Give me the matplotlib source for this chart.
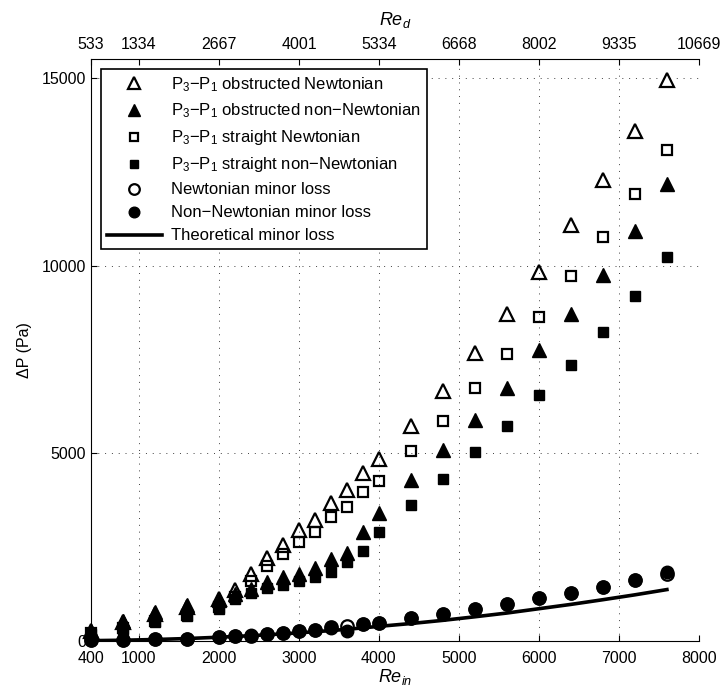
import numpy as np
import matplotlib.pyplot as plt

plt.rcParams['font.family'] = ['Liberation Sans', 'DejaVu Sans']
plt.rcParams['mathtext.fontset'] = 'custom'
plt.rcParams['mathtext.rm'] = 'Liberation Sans'
plt.rcParams['mathtext.it'] = 'Liberation Sans:italic'
plt.rcParams['font.size'] = 11.5

# inlet Reynolds number of each run
re_in = [400, 800, 1200, 1600, 2000, 2200, 2400, 2600, 2800, 3000, 3200, 3400,
         3600, 3800, 4000, 4400, 4800, 5200, 5600, 6000, 6400, 6800, 7200, 7600]

# pressure drops P3-P1 (Pa)
obs_newt = [270, 500, 720, 900, 1120, 1360, 1780, 2200, 2540, 2950, 3230, 3680,
            4010, 4480, 4840, 5730, 6650, 7670, 8700, 9830, 11080, 12280, 13580, 14940]
obs_nonnewt = [250, 530, 760, 950, 1090, 1250, 1390, 1580, 1700, 1780, 1950, 2170,
               2350, 2890, 3400, 4280, 5090, 5890, 6750, 7760, 8700, 9740, 10920, 12170]
str_newt = [200, 330, 540, 700, 900, 1160, 1600, 1990, 2300, 2620, 2890, 3290,
            3560, 3960, 4250, 5050, 5850, 6740, 7630, 8640, 9730, 10770, 11900, 13080]
str_nonnewt = [170, 280, 490, 650, 860, 1110, 1270, 1400, 1480, 1590, 1690, 1840,
               2110, 2380, 2890, 3610, 4320, 5020, 5730, 6550, 7350, 8240, 9180, 10230]

# minor losses (Pa)
minor_newt = [10, 20, 40, 60, 100, 120, 140, 170, 205, 255, 280, 355,
              390, 450, 475, 610, 715, 850, 985, 1140, 1280, 1440, 1620, 1790]
minor_nonnewt = [10, 20, 40, 60, 105, 125, 145, 175, 210, 265, 285, 350,
                 260, 455, 480, 615, 720, 855, 990, 1150, 1285, 1445, 1630, 1830]
minor_theory = [4, 15, 34, 60, 95, 115, 136, 160, 185, 212, 242, 272,
                306, 345, 385, 460, 545, 640, 740, 855, 970, 1095, 1225, 1365]

# top axis: matching Re_d values
re_ticks = [400, 1000, 2000, 3000, 4000, 5000, 6000, 7000, 8000]
re_d_labels = ['533', '1334', '2667', '4001', '5334', '6668', '8002', '9335', '10669']

fig = plt.figure(figsize=(7.22, 6.92), dpi=100)
ax = fig.add_axes([0.126, 0.074, 0.842, 0.8405])

p31 = 'P$_3$\u2212P$_1$'
ax.plot(re_in, obs_newt, '^', ms=10, mfc='none', mec='k', mew=1.6, clip_on=False,
        label=p31 + ' obstructed Newtonian')
ax.plot(re_in, obs_nonnewt, '^', ms=10, mfc='k', mec='k', mew=1, clip_on=False,
        label=p31 + ' obstructed non\u2212Newtonian')
ax.plot(re_in, str_newt, 's', ms=6.5, mfc='none', mec='k', mew=1.6, clip_on=False,
        label=p31 + ' straight Newtonian')
ax.plot(re_in, str_nonnewt, 's', ms=6.5, mfc='k', mec='k', mew=1, clip_on=False,
        label=p31 + ' straight non\u2212Newtonian')
ax.plot(re_in, minor_newt, 'o', ms=9, mfc='none', mec='k', mew=1.6, clip_on=False,
        label='Newtonian minor loss')
ax.plot(re_in, minor_nonnewt, 'o', ms=9, mfc='k', mec='k', mew=1, clip_on=False,
        label='Non\u2212Newtonian minor loss')
ax.plot(re_in, minor_theory, 'k-', lw=2.6, label='Theoretical minor loss')

ax.set_xlim(400, 8000)
ax.set_ylim(0, 15500)
ax.set_xticks(re_ticks)
ax.set_yticks([0, 5000, 10000, 15000])
ax.grid(True, color='0.25', linestyle=(0, (1, 6)), linewidth=0.7)
ax.tick_params(direction='in', length=4, width=0.8, top=False, right=False)
ax.tick_params(axis='x', pad=7)
ax.spines['top'].set_visible(False)
ax.spines['right'].set_visible(False)
ax.set_xlabel('$Re_{in}$', fontsize=13, labelpad=1)
ax.set_ylabel('\u0394P (Pa)', labelpad=7)

ax2 = ax.twiny()
ax2.set_xlim(ax.get_xlim())
ax2.set_xticks(re_ticks)
ax2.set_xticklabels(re_d_labels)
ax2.tick_params(direction='in', length=4, width=0.8, pad=5)
for side in ['bottom', 'left', 'right']:
    ax2.spines[side].set_visible(False)
ax2.set_xlabel('$Re_d$', fontsize=13, labelpad=9)

leg = ax.legend(loc='upper left', fancybox=False, edgecolor='k', framealpha=1,
                borderaxespad=0.6, handlelength=3.3, labelspacing=0.48,
                borderpad=0.35, handletextpad=0.55, fontsize=12,
                markerscale=0.85)
leg.get_frame().set_linewidth(1.2)

fig.savefig('out.png', dpi=100)
